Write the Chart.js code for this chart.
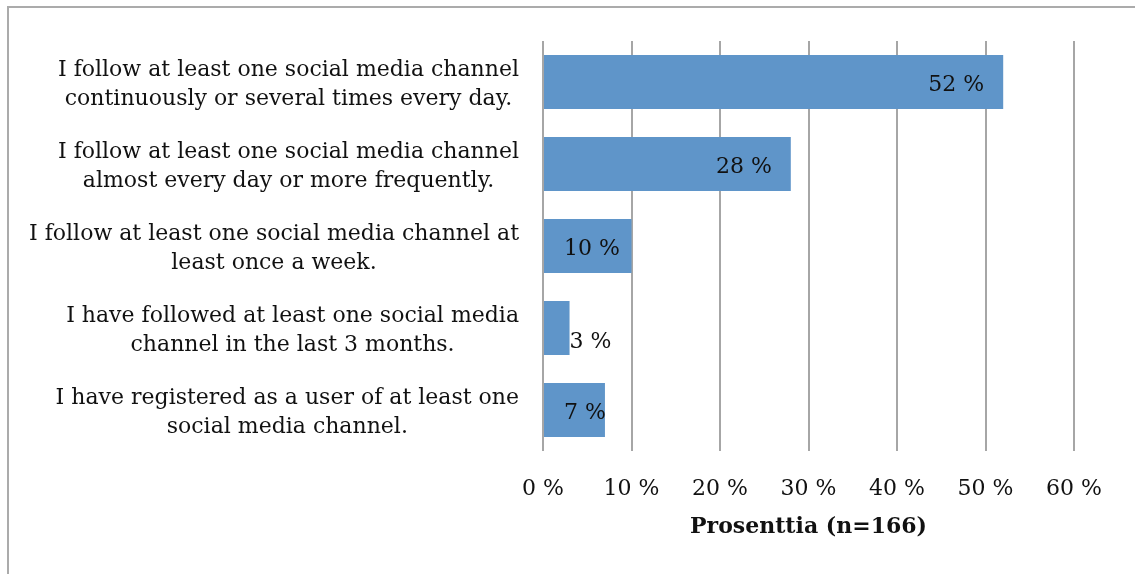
<!DOCTYPE html>
<html>
<head>
<meta charset="utf-8">
<script src="https://cdn.jsdelivr.net/npm/chart.js@4/dist/chart.umd.min.js"></script>
<style>
  html, body { margin: 0; padding: 0; background: #fff; }
  #wrap { position: relative; width: 1135px; height: 574px; overflow: hidden; }
  #frame { position: absolute; left: 7px; top: 6px; width: 1300px; height: 700px;
           border-top: 2px solid #ababab; border-left: 2px solid #ababab; }
  #c { position: absolute; left: 0; top: 0; }
</style>
</head>
<body>
<div id="wrap">
  <div id="frame"></div>
  <canvas id="c" width="1135" height="574"></canvas>
</div>
<script>
// Survey answers, each label split into its two printed lines
const categories = [
  ['I follow at least one social media channel', 'continuously or several times every day.'],
  ['I follow at least one social media channel', 'almost every day or more frequently.'],
  ['I follow at least one social media channel at', 'least once a week.'],
  ['I have followed at least one social media', 'channel in the last 3 months.'],
  ['I have registered as a user of at least one', 'social media channel.']
];
// Share of respondents (%)
const shares = [52, 28, 10, 3, 7];
// Percentage axis
const axisMin = 0;
const axisMax = 60;
const axisStep = 10;
const axisTitle = 'Prosenttia (n=166)';

const FONT = '"DejaVu Serif", serif';
const TEXT = '#111111';
const GRID = '#a6a6a6';
const BAR = '#5f95c9';

const pct = v => v + ' %';

// Category labels: wrapped lines centred within a right-aligned block
const categoryLabels = {
  id: 'categoryLabels',
  afterDraw(chart) {
    const { ctx, scales: { y } } = chart;
    ctx.save();
    ctx.font = '22px ' + FONT;
    ctx.fillStyle = TEXT;
    ctx.textAlign = 'center';
    ctx.textBaseline = 'middle';
    const right = y.right - 24;
    const lh = 29;
    categories.forEach((lines, i) => {
      const blockW = Math.max(...lines.map(t => ctx.measureText(t).width));
      const cx = right - blockW / 2;
      const cy = y.getPixelForValue(i);
      lines.forEach((t, k) => {
        ctx.fillText(t, cx, cy + (k - (lines.length - 1) / 2) * lh + 3);
      });
    });
    ctx.restore();
  }
};

// Value labels near the bar end; short bars get theirs just outside
const valueLabels = {
  id: 'valueLabels',
  afterDatasetsDraw(chart) {
    const { ctx } = chart;
    const meta = chart.getDatasetMeta(0);
    ctx.save();
    ctx.font = '22px ' + FONT;
    ctx.fillStyle = TEXT;
    ctx.textAlign = 'left';
    ctx.textBaseline = 'middle';
    meta.data.forEach((bar, i) => {
      const text = pct(shares[i]);
      const w = ctx.measureText(text).width;
      const base = bar.base, end = bar.x;
      let left = Math.max(base + 20, end - 19 - w);
      let dy = 3.5;
      if (left + w > end + 2) { left = end; dy = 14; }
      ctx.fillText(text, left, bar.y + dy);
    });
    ctx.restore();
  }
};

new Chart(document.getElementById('c'), {
  type: 'bar',
  data: {
    labels: categories,
    datasets: [{
      data: shares,
      backgroundColor: BAR,
      borderWidth: 0,
      categoryPercentage: 1,
      barPercentage: 0.66
    }]
  },
  options: {
    indexAxis: 'y',
    responsive: false,
    animation: false,
    events: [],
    layout: { padding: { top: 41, right: 61, bottom: 0, left: 0 } },
    plugins: { legend: { display: false }, tooltip: { enabled: false } },
    scales: {
      x: {
        min: axisMin,
        max: axisMax,
        ticks: {
          stepSize: axisStep,
          callback: v => pct(v),
          color: TEXT,
          font: { family: FONT, size: 22 },
          padding: 25,
          maxRotation: 0
        },
        grid: { color: GRID, lineWidth: 2, drawTicks: false },
        border: { display: false },
        title: {
          display: true,
          text: axisTitle,
          color: TEXT,
          font: { family: FONT, size: 22, weight: 'bold' },
          padding: { top: 0, bottom: 34 }
        },
        afterFit(scale) { scale.height = 123; }
      },
      y: {
        ticks: { display: false, autoSkip: false },
        grid: { display: false, drawTicks: false },
        border: { display: false },
        afterFit(scale) { scale.width = 543; }
      }
    }
  },
  plugins: [categoryLabels, valueLabels]
});
</script>
</body>
</html>
